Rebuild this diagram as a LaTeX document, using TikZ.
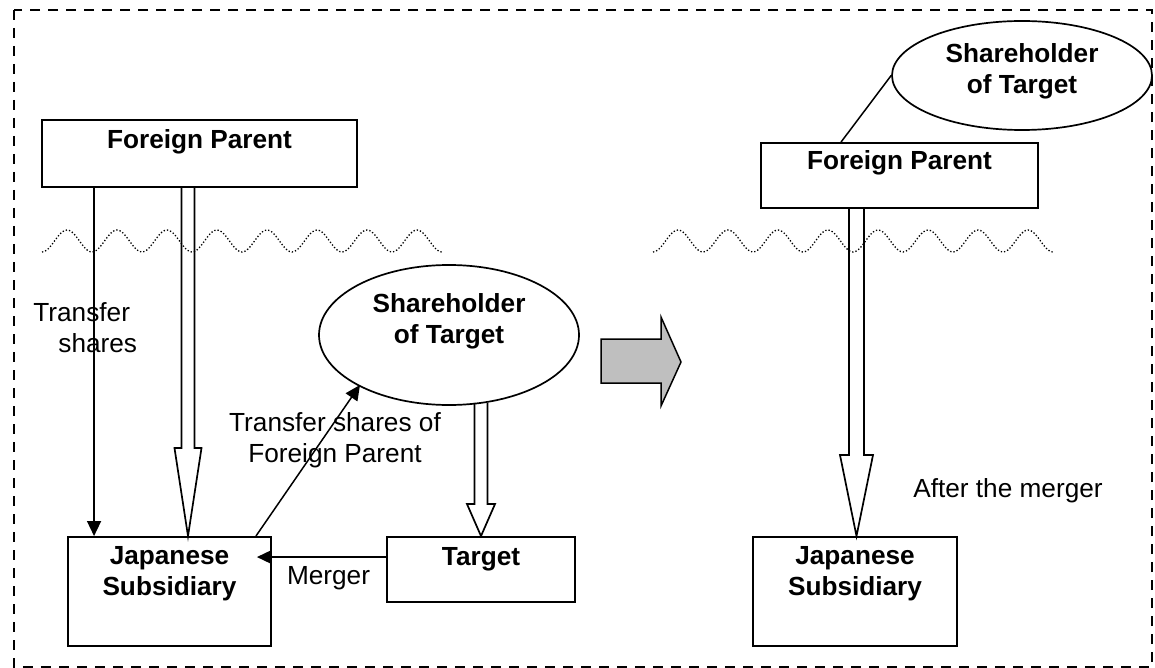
\documentclass[tikz,border=0pt]{standalone}
\usepackage{fontspec}
\setmainfont{Liberation Sans}
\usetikzlibrary{arrows.meta,calc,shapes.geometric}

\newcommand{\diagfont}{\fontsize{13.1}{15.5}\selectfont}
% hollow block arrow: from, tip, half shaft, half head, head length
\newcommand{\fatarrow}[5]{%
  \draw[fat] ($(#2 |- #1)+(-#3,0)$) -- ($(#2)+(-#3,-#5)$) -- ($(#2)+(-#4,-#5)$) -- (#2)
    -- ($(#2)+(#4,-#5)$) -- ($(#2)+(#3,-#5)$) -- ($(#2 |- #1)+(#3,0)$);}

\begin{document}
\begin{tikzpicture}[x=0.5pt,y=-0.5pt,font=\diagfont,
  box/.style={draw,line width=.95pt,font=\diagfont\bfseries,inner sep=0pt,align=center},
  oval/.style={draw,ellipse,line width=.85pt,font=\diagfont\bfseries,inner sep=0pt,align=center},
  lbl/.style={inner sep=0pt},
  arr/.style={-{Triangle[length=7.5pt,width=7pt]},line width=.75pt},
  fat/.style={line width=.85pt,line join=miter},
  wave/.style={line width=.65pt,dash pattern=on .65pt off 1pt},
  frame/.style={line width=.95pt,dash pattern=on 5pt off 4pt}]
\useasboundingbox (0,0) rectangle (1155,668);
\draw[frame] (14,10) rectangle (1152,667);
% borders
\foreach \wx in {42,653}
  \draw[wave] plot[domain=0:400,samples=161,smooth] ({\wx+\x},{241+11*cos(7.2*\x)});
% before the merger
\node[box,minimum width=157.5pt,text height=14.5pt,text depth=19pt] (fpL) at (199.5,153.5) {Foreign Parent};
\node[box,minimum width=101.5pt,text height=29pt,text depth=25.5pt] (jsL) at (169.5,591.5) {Japanese\\Subsidiary};
\node[box,minimum width=94pt,text height=14pt,text depth=18.5pt] (tgt) at (481,569.5) {Target};
\node[oval,minimum width=130pt,minimum height=70pt,text height=25pt,text depth=17pt] (shL) at (449,335) {Shareholder\\of Target};
\coordinate (tipL) at ($(jsL.north)+(18.5,0)$);
\coordinate (shBot) at ($(shL.center)+(32.5,67.8)$);
\draw[arr] ($(fpL.south west)+(53,0)$) -- ($(jsL.north west)+(27,0)$);
\fatarrow{fpL.south}{tipL}{6.5}{13.5}{88}
\fatarrow{shBot}{tgt.north}{6.5}{14}{32}
\draw[arr] ($(tgt.north west)+(0,21)$) -- ($(jsL.north east)+(-15,21)$);
\draw[arr] ($(jsL.north east)+(-16,0)$) -- ($(shL.center)+(-89,50)$);
\node[lbl,anchor=base west,align=left] (lblT) at (33,352) {Transfer\\\hspace*{12.5pt}shares};
\node[lbl,anchor=base,align=center] (lblF) at (335,462) {Transfer shares of\\Foreign Parent};
\node[lbl,anchor=base] (lblM) at (328.5,584) {Merger};
% step arrow
\draw[fill=gray!50,line width=.75pt] (601,339) -- (661,339) -- (661,317) -- (681,362)
  -- (661,406) -- (661,383) -- (601,383) -- cycle;
% after the merger
\node[box,minimum width=138.5pt,text height=13.5pt,text depth=19pt] (fpR) at (899.5,175.5) {Foreign Parent};
\node[box,minimum width=102pt,text height=29pt,text depth=25.5pt] (jsR) at (855,591.5) {Japanese\\Subsidiary};
\node[oval,minimum width=130pt,minimum height=54.5pt,text height=25pt,text depth=6.5pt] (shR) at (1022,75.5) {Shareholder\\of Target};
\coordinate (tipR) at ($(jsR.north)+(1.5,0)$);
\draw[line width=.75pt] ($(fpR.north west)+(81,0)$) -- (shR.west);
\fatarrow{fpR.south}{tipR}{7.5}{16.5}{81}
\node[lbl,anchor=base] (lblA) at (1008,497) {After the merger};
\end{tikzpicture}
\end{document}
